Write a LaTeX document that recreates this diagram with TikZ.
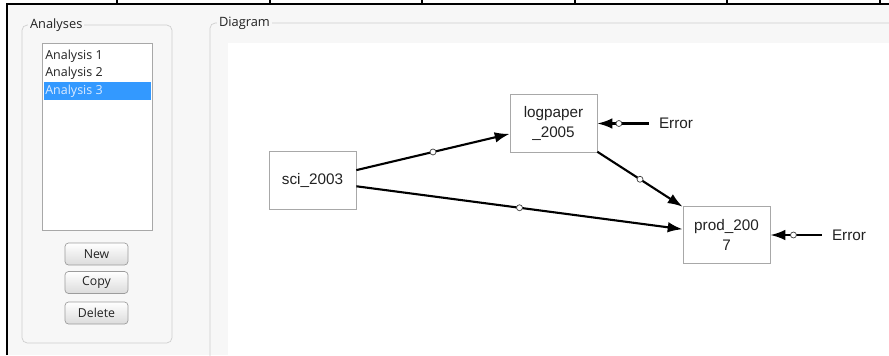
\documentclass[tikz,border=0pt]{standalone}
\usepackage{fontspec}
\setmainfont{Liberation Sans}
\newfontfamily\uifont{Open Sans}
\usetikzlibrary{arrows.meta,positioning}
\definecolor{winbg}{HTML}{F7F7F7}
\definecolor{grpline}{HTML}{CFCFCF}
\definecolor{boxline}{HTML}{A8A8A8}
\definecolor{selblue}{HTML}{3399FF}
\definecolor{seltext}{HTML}{DCEBFF}
\definecolor{btnline}{HTML}{9C9C9C}
\definecolor{ink}{HTML}{222222}

\begin{document}
\begin{tikzpicture}[x=0.02cm,y=-0.02cm,
  box/.style={draw=boxline, fill=white, minimum width=1.74cm, minimum height=1.15cm,
    inner sep=0pt, align=center, text=ink, font=\fontsize{8.7}{11.5}\selectfont},
  link/.style={line width=1.2pt, -{Latex[length=8.5pt,width=6pt]}},
  knot/.style={circle, draw=black!75, fill=white, inner sep=0pt, minimum size=3.4pt, line width=0.4pt},
  errtag/.style={inner xsep=0.2cm, inner ysep=1pt, text=ink, font=\fontsize{8.7}{10}\selectfont},
  grplabel/.style={fill=winbg, inner xsep=1pt, inner ysep=0pt, text=ink, font=\uifont\fontsize{7.3}{9}\selectfont},
  listitem/.style={inner sep=0pt, anchor=west, font=\uifont\fontsize{7.1}{9}\selectfont},
  btn/.style={draw=btnline, rounded corners=2pt, top color=white, bottom color=black!14,
    minimum width=1.26cm, minimum height=0.44cm, inner sep=0pt, text=ink, font=\uifont\fontsize{7}{9}\selectfont}]
\useasboundingbox (0,0) rectangle (889,355);
\fill[white] (0,0) rectangle (889,355);
\fill[winbg] (7,4) rectangle (889,355);
\draw[line width=1pt] (7,355) -- (7,4) -- (889,4);
\foreach \tx in {117,270,422,575,727,880}
  \draw[line width=0.6pt] (\tx,0) -- (\tx,4);

\draw[grpline, rounded corners=3pt] (22,25) rectangle (172,343);
\node[grplabel, anchor=west] (grpA) at (28,25) {Analyses};
\draw[boxline, fill=white] (42,43) rectangle (152,230);
\fill[selblue] (44,82) rectangle (151,100);
\node[listitem, text=ink] (item1) at (45,56) {Analysis 1};
\node[listitem, text=ink] (item2) at (45,73) {Analysis 2};
\node[listitem, text=seltext] (item3) at (45,91) {Analysis 3};
\node[btn] (bnew) at (96.5,254) {New};
\node[btn] (bcopy) at (96.5,282.5) {Copy};
\node[btn] (bdel) at (96.5,313) {Delete};

\draw[grpline, rounded corners=3pt] (210,360) -- (210,23) -- (895,23);
\node[grplabel, anchor=west] (grpD) at (217,23) {Diagram};
\fill[white] (228,43) rectangle (889,355);

\node[box] (sci) at (312.5,180.5) {sci\_2003};
\node[box] (logp) at (553.5,123.5) {logpaper\\\_2005};
\node[box] (prod) at (726.5,235) {prod\_200\\7};
\node[errtag] (err1) at (676,123.5) {Error};
\node[errtag] (err2) at (849,235) {Error};

\draw[link] (sci) -- node[knot, pos=0.5] {} (logp);
\draw[link] (sci) -- node[knot, pos=0.5] {} (prod);
\draw[link] (logp) -- node[knot, pos=0.5] {} (prod);
\draw[link] (err1) -- node[knot, pos=0.58] {} (logp);
\draw[link] (err2) -- node[knot, pos=0.55] {} (prod);
\end{tikzpicture}
\end{document}
